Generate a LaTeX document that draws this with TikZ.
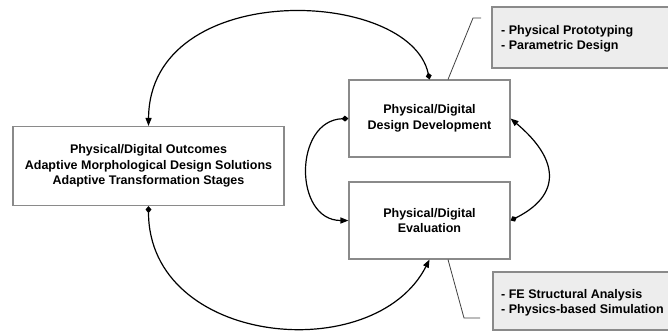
\documentclass[tikz,border=0pt]{standalone}
\usepackage{fontspec}
\setmainfont{Liberation Sans}
\usetikzlibrary{arrows.meta}
\definecolor{boxline}{HTML}{8A8A8A}
\definecolor{callfill}{HTML}{EDEDED}
\begin{document}
\begin{tikzpicture}[x=1pt,y=-1pt,
  mainbox/.style={draw=boxline,line width=1.1pt,fill=white,align=center,inner sep=0pt,
    font=\fontsize{12.5}{15.5}\selectfont\bfseries},
  callbox/.style={draw=boxline,line width=1.1pt,fill=callfill},
  calltext/.style={align=left,anchor=west,inner sep=0pt,font=\fontsize{12.5}{15}\selectfont\bfseries},
  conn/.style={line width=1.2pt,{Diamond[length=7pt,width=6pt]}-{Triangle[length=8pt,width=6pt]}},
  bracket/.style={draw=black!75,line width=0.8pt}]
\useasboundingbox (0,0) rectangle (668,332);
\clip (0,0) rectangle (668,332);
% callouts
\draw[callbox] (492,7) rectangle (680,68);
\node[calltext] (t1) at (501,38.5) {- Physical Prototyping\\- Parametric Design};
\draw[callbox] (493,272) rectangle (680,330);
\node[calltext] (t2) at (501,302.5) {- FE Structural Analysis\\- Physics-based Simulation};
% boxes
\node[mainbox,minimum width=271pt,minimum height=79pt] (out) at (148.5,166) {Physical/Digital Outcomes\\Adaptive Morphological Design Solutions\\Adaptive Transformation Stages};
\node[mainbox,minimum width=161pt,minimum height=77pt] (dd) at (429.5,118.5) {Physical/Digital\\Design Development};
\node[mainbox,minimum width=161pt,minimum height=77pt] (ev) at (429.5,220.5) {Physical/Digital\\Evaluation};
% brackets
\coordinate (b1a) at (481,18);
\coordinate (b1b) at (473,18);
\coordinate (b2a) at (464,318);
\coordinate (b2b) at (480,318);
\draw[bracket] (b1a) -- (b1b) -- (dd.north -| 448,0);
\draw[bracket] (ev.south -| 448,0) -- (b2a) -- (b2b);
% connectors
\draw[conn] (dd.north) .. controls +(-20,-92) and +(1,-148) .. (out.north);
\draw[conn] (out.south) .. controls +(0,140) and +(-55,108) .. (ev.south);
\draw[conn] (dd.west) .. controls +(-55,2) and +(-55,0) .. (ev.west);
\draw[conn] (ev.east) .. controls +(50,-25) and +(50,42) .. (dd.east);
\end{tikzpicture}
\end{document}
